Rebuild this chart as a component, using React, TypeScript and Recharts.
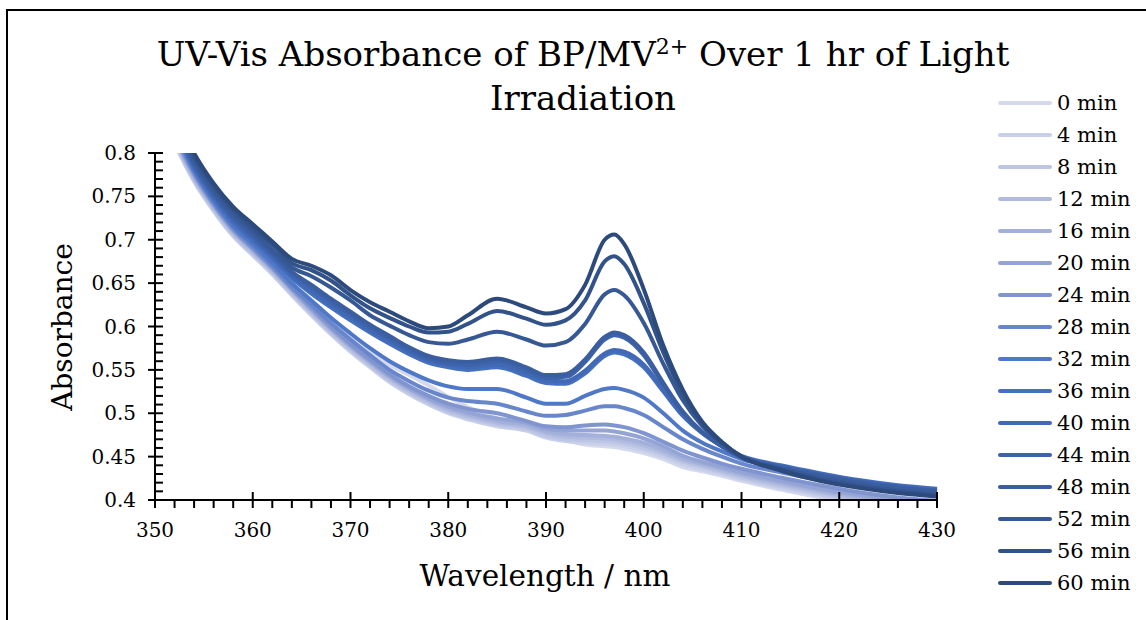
import { LineChart, Line, XAxis, YAxis } from "recharts";

const FONT = '"DejaVu Serif", serif';

const wavelengths = [
  350, 352, 354, 356, 358, 360, 362, 364, 366, 368, 370, 372, 374, 376, 378, 380, 382, 385, 388, 390,
  392, 394, 396, 397, 398, 400, 402, 404, 406, 408, 410, 414, 418, 422, 426, 430,
];

const s0 = [0.866, 0.812, 0.768, 0.735, 0.707, 0.686, 0.666, 0.645, 0.626, 0.606, 0.588, 0.571, 0.556, 0.544, 0.532, 0.519, 0.507, 0.494, 0.484, 0.476, 0.469, 0.464, 0.462, 0.461, 0.459, 0.454, 0.447, 0.438, 0.433, 0.428, 0.422, 0.412, 0.403, 0.396, 0.39, 0.386];
const s4 = [0.868, 0.812, 0.767, 0.733, 0.704, 0.682, 0.66, 0.636, 0.613, 0.591, 0.571, 0.553, 0.536, 0.522, 0.51, 0.5, 0.493, 0.485, 0.48, 0.472, 0.468, 0.466, 0.465, 0.464, 0.462, 0.457, 0.45, 0.441, 0.435, 0.43, 0.424, 0.414, 0.405, 0.398, 0.392, 0.388];
const s8 = [0.87, 0.814, 0.769, 0.735, 0.706, 0.684, 0.662, 0.638, 0.615, 0.593, 0.573, 0.555, 0.538, 0.524, 0.512, 0.502, 0.495, 0.487, 0.482, 0.474, 0.47, 0.469, 0.468, 0.467, 0.465, 0.46, 0.453, 0.444, 0.438, 0.432, 0.426, 0.416, 0.407, 0.4, 0.394, 0.39];
const s12 = [0.872, 0.816, 0.771, 0.737, 0.708, 0.686, 0.664, 0.64, 0.617, 0.595, 0.575, 0.557, 0.54, 0.526, 0.514, 0.504, 0.497, 0.489, 0.484, 0.477, 0.473, 0.472, 0.471, 0.47, 0.468, 0.463, 0.455, 0.446, 0.44, 0.434, 0.428, 0.418, 0.409, 0.402, 0.396, 0.392];
const s16 = [0.874, 0.818, 0.773, 0.739, 0.71, 0.688, 0.666, 0.642, 0.619, 0.597, 0.577, 0.559, 0.542, 0.528, 0.516, 0.506, 0.499, 0.491, 0.486, 0.479, 0.476, 0.475, 0.474, 0.473, 0.471, 0.466, 0.458, 0.448, 0.442, 0.436, 0.43, 0.42, 0.411, 0.404, 0.398, 0.394];
const s20 = [0.876, 0.82, 0.775, 0.74, 0.711, 0.689, 0.667, 0.643, 0.62, 0.598, 0.578, 0.56, 0.543, 0.529, 0.517, 0.508, 0.501, 0.494, 0.489, 0.482, 0.48, 0.48, 0.48, 0.479, 0.477, 0.471, 0.462, 0.451, 0.444, 0.438, 0.432, 0.422, 0.413, 0.406, 0.4, 0.396];
const s24 = [0.878, 0.822, 0.776, 0.741, 0.712, 0.69, 0.668, 0.644, 0.622, 0.6, 0.58, 0.562, 0.545, 0.531, 0.52, 0.511, 0.505, 0.5, 0.491, 0.485, 0.484, 0.486, 0.487, 0.486, 0.484, 0.477, 0.467, 0.457, 0.449, 0.442, 0.436, 0.426, 0.417, 0.409, 0.403, 0.399];
const s28 = [0.88, 0.825, 0.778, 0.743, 0.714, 0.692, 0.67, 0.646, 0.625, 0.604, 0.585, 0.567, 0.55, 0.537, 0.526, 0.518, 0.514, 0.511, 0.502, 0.497, 0.498, 0.503, 0.508, 0.508, 0.506, 0.498, 0.484, 0.47, 0.459, 0.45, 0.442, 0.432, 0.423, 0.415, 0.409, 0.405];
const s32 = [0.882, 0.828, 0.78, 0.745, 0.716, 0.695, 0.673, 0.65, 0.63, 0.61, 0.592, 0.575, 0.56, 0.548, 0.538, 0.531, 0.528, 0.528, 0.518, 0.511, 0.511, 0.52, 0.528, 0.529, 0.527, 0.518, 0.5, 0.48, 0.466, 0.456, 0.447, 0.437, 0.429, 0.421, 0.415, 0.411];
const s36 = [0.884, 0.83, 0.783, 0.748, 0.72, 0.699, 0.678, 0.656, 0.638, 0.622, 0.607, 0.593, 0.58, 0.568, 0.558, 0.553, 0.55, 0.553, 0.543, 0.535, 0.534, 0.546, 0.566, 0.57, 0.568, 0.553, 0.525, 0.497, 0.477, 0.462, 0.451, 0.44, 0.431, 0.423, 0.417, 0.413];
const s40 = [0.886, 0.832, 0.785, 0.75, 0.722, 0.701, 0.68, 0.658, 0.641, 0.625, 0.61, 0.596, 0.583, 0.571, 0.561, 0.556, 0.553, 0.556, 0.546, 0.538, 0.537, 0.549, 0.569, 0.573, 0.571, 0.556, 0.527, 0.498, 0.477, 0.462, 0.45, 0.439, 0.43, 0.422, 0.416, 0.412];
const s44 = [0.888, 0.834, 0.787, 0.752, 0.725, 0.704, 0.683, 0.661, 0.645, 0.629, 0.614, 0.599, 0.586, 0.573, 0.563, 0.558, 0.556, 0.56, 0.55, 0.541, 0.542, 0.559, 0.585, 0.59, 0.587, 0.567, 0.533, 0.501, 0.478, 0.462, 0.45, 0.438, 0.429, 0.421, 0.415, 0.411];
const s48 = [0.89, 0.836, 0.789, 0.754, 0.727, 0.706, 0.685, 0.663, 0.648, 0.632, 0.617, 0.602, 0.589, 0.576, 0.566, 0.561, 0.559, 0.563, 0.553, 0.544, 0.545, 0.562, 0.588, 0.593, 0.59, 0.57, 0.535, 0.502, 0.478, 0.462, 0.449, 0.437, 0.428, 0.42, 0.414, 0.41];
const s52 = [0.895, 0.84, 0.793, 0.758, 0.731, 0.71, 0.688, 0.668, 0.658, 0.645, 0.63, 0.613, 0.601, 0.59, 0.582, 0.58, 0.585, 0.594, 0.585, 0.578, 0.582, 0.603, 0.637, 0.642, 0.636, 0.604, 0.557, 0.515, 0.485, 0.465, 0.45, 0.436, 0.425, 0.417, 0.411, 0.407];
const s56 = [0.9, 0.845, 0.797, 0.762, 0.735, 0.714, 0.694, 0.673, 0.665, 0.653, 0.636, 0.621, 0.61, 0.6, 0.593, 0.594, 0.603, 0.618, 0.609, 0.602, 0.607, 0.63, 0.675, 0.681, 0.672, 0.627, 0.57, 0.522, 0.488, 0.466, 0.45, 0.435, 0.423, 0.415, 0.409, 0.405];
const s60 = [0.905, 0.85, 0.8, 0.765, 0.738, 0.718, 0.698, 0.678, 0.67, 0.659, 0.642, 0.628, 0.617, 0.606, 0.598, 0.6, 0.613, 0.632, 0.622, 0.615, 0.62, 0.648, 0.7, 0.706, 0.695, 0.643, 0.578, 0.527, 0.49, 0.467, 0.45, 0.434, 0.422, 0.414, 0.408, 0.404];

const seriesNames = [
  "0 min", "4 min", "8 min", "12 min", "16 min", "20 min", "24 min", "28 min",
  "32 min", "36 min", "40 min", "44 min", "48 min", "52 min", "56 min", "60 min",
];
const seriesValues = [s0, s4, s8, s12, s16, s20, s24, s28, s32, s36, s40, s44, s48, s52, s56, s60];
const seriesColors = [
  "#d5d9ee", "#c8cfe9", "#bcc5e4", "#b0bbdf", "#a3b0da", "#94a4d5", "#8095d0", "#6886cc",
  "#4f78c9", "#4570c0", "#4169b5", "#3d63aa", "#3a5ea0", "#365895", "#32528a", "#2d4a7c",
];

const xTicks = [
  350, 352, 354, 356, 358, 360, 362, 364, 366, 368, 370, 372, 374, 376, 378, 380, 382, 384, 386, 388, 390,
  392, 394, 396, 398, 400, 402, 404, 406, 408, 410, 412, 414, 416, 418, 420, 422, 424, 426, 428, 430,
];
const xLabels = [350, 360, 370, 380, 390, 400, 410, 420, 430];
const yTicks = [
  0.4, 0.41, 0.42, 0.43, 0.44, 0.45, 0.46, 0.47, 0.48, 0.49, 0.5, 0.51, 0.52, 0.53, 0.54, 0.55, 0.56, 0.57,
  0.58, 0.59, 0.6, 0.61, 0.62, 0.63, 0.64, 0.65, 0.66, 0.67, 0.68, 0.69, 0.7, 0.71, 0.72, 0.73, 0.74, 0.75,
  0.76, 0.77, 0.78, 0.79, 0.8,
];
const yLabels = [0.4, 0.45, 0.5, 0.55, 0.6, 0.65, 0.7, 0.75, 0.8];

const data = wavelengths.map((w, i) => {
  const row: Record<string, number> = { w };
  seriesNames.forEach((name, j) => {
    row[name] = seriesValues[j][i];
  });
  return row;
});

function XTick(props: any) {
  const { x, y, payload } = props;
  const major = xLabels.includes(payload.value);
  return (
    <g>
      <line x1={x} x2={x} y1={major ? y - 8 : y} y2={y + 8} stroke="#000" strokeWidth={2} />
      {major && (
        <text x={x} y={y + 37} textAnchor="middle" fontSize={20} fontFamily={FONT} fill="#000">
          {payload.value}
        </text>
      )}
    </g>
  );
}

function YTick(props: any) {
  const { x, y, payload } = props;
  const major = yLabels.some((v) => Math.abs(v - payload.value) < 1e-6);
  return (
    <g>
      <line x1={major ? x - 7 : x} x2={x + 8} y1={y} y2={y} stroke="#000" strokeWidth={2} />
      {major && (
        <text x={x - 19} y={y + 7} textAnchor="end" fontSize={20} fontFamily={FONT} fill="#000">
          {payload.value}
        </text>
      )}
    </g>
  );
}

function LegendBox() {
  return (
    <div
      style={{
        position: "absolute",
        left: 998,
        top: 87,
        fontFamily: FONT,
        fontSize: 21,
        color: "#000",
        whiteSpace: "nowrap",
      }}
    >
      {seriesNames.map((name, i) => (
        <div key={name} style={{ height: 32, display: "flex", alignItems: "center" }}>
          <div style={{ width: 54, height: 4, borderRadius: 2, background: seriesColors[i], marginRight: 5 }} />
          <span>{name}</span>
        </div>
      ))}
    </div>
  );
}

export default function App() {
  return (
    <div style={{ position: "absolute", left: 0, top: 0, width: 1146, height: 620, overflow: "hidden", background: "#fff" }}>
      <div
        style={{
          position: "absolute",
          left: 6,
          top: 9,
          width: 1200,
          height: 700,
          border: "2px solid #000",
        }}
      />
      <div style={{ position: "absolute", left: 0, top: 0 }}>
        <LineChart
          width={1146}
          height={620}
          data={data}
          margin={{ top: 153, right: 209, left: 0, bottom: 0 }}
        >
          <XAxis
            dataKey="w"
            type="number"
            domain={[350, 430]}
            ticks={xTicks}
            interval={0}
            height={120}
            tickSize={0}
            tickMargin={0}
            tickLine={false}
            tick={<XTick />}
            axisLine={{ stroke: "#000", strokeWidth: 2 }}
          />
          <YAxis
            type="number"
            domain={[0.4, 0.8]}
            allowDataOverflow
            ticks={yTicks}
            interval={0}
            width={155}
            tickSize={0}
            tickMargin={0}
            tickLine={false}
            tick={<YTick />}
            axisLine={{ stroke: "#000", strokeWidth: 2 }}
          />
          {seriesNames.map((name, i) => (
            <Line
              key={name}
              dataKey={name}
              type="monotone"
              stroke={seriesColors[i]}
              strokeWidth={4}
              dot={false}
              activeDot={false}
              isAnimationActive={false}
            />
          ))}
        </LineChart>
      </div>
      <LegendBox />
      <div
        style={{
          position: "absolute",
          left: 0,
          width: 1166,
          top: 32,
          textAlign: "center",
          fontFamily: FONT,
          fontSize: 34,
          lineHeight: "44px",
          color: "#000",
        }}
      >
        UV-Vis Absorbance of BP/MV<sup style={{ fontSize: 22, lineHeight: 0 }}>2+</sup> Over 1 hr of Light
        <br />
        Irradiation
      </div>
      <div
        style={{
          position: "absolute",
          left: 62,
          top: 327,
          transform: "translate(-50%, -50%) rotate(-90deg)",
          fontFamily: FONT,
          fontSize: 28,
          whiteSpace: "nowrap",
          color: "#000",
        }}
      >
        Absorbance
      </div>
      <div
        style={{
          position: "absolute",
          left: 545,
          top: 576,
          transform: "translate(-50%, -50%)",
          fontFamily: FONT,
          fontSize: 29.5,
          whiteSpace: "nowrap",
          color: "#000",
        }}
      >
        Wavelength / nm
      </div>
    </div>
  );
}
